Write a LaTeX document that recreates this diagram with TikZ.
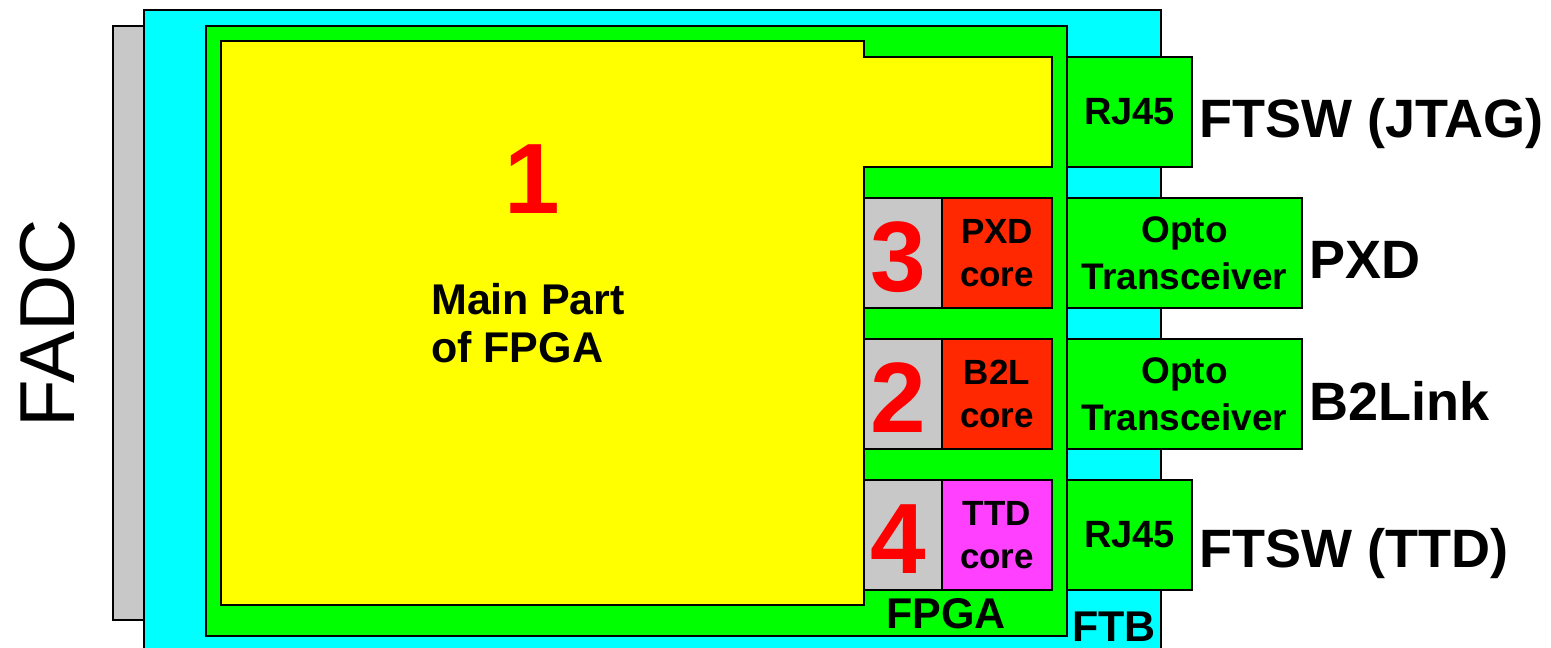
\documentclass[tikz,border=0pt]{standalone}
\usepackage{fontspec}
\setmainfont{Liberation Sans}
\usetikzlibrary{positioning}
\definecolor{adcgrey}{RGB}{200,200,200}
\definecolor{ftbcyan}{RGB}{0,255,255}
\definecolor{fpgagreen}{RGB}{0,255,0}
\definecolor{mainyellow}{RGB}{255,255,0}
\definecolor{corered}{RGB}{255,40,0}
\definecolor{coremagenta}{RGB}{255,64,255}
\definecolor{digitred}{RGB}{255,0,0}

\begin{document}
\begin{tikzpicture}[x=1pt, y=-1pt,
    box/.style={draw, line width=2.5pt, inner sep=0pt, outer sep=0pt, anchor=north west},
    cell/.style={box, line width=2pt, minimum height=110pt, align=center},
    digit/.style={font=\fontsize{100}{100}\selectfont\bfseries, text=digitred, inner sep=0pt},
    coretext/.style={font=\fontsize{35}{43}\selectfont\bfseries},
    optotext/.style={font=\fontsize{37}{47}\selectfont\bfseries},
    tag/.style={font=\fontsize{54}{54}\selectfont\bfseries, inner sep=0pt, anchor=base west},
    smalltag/.style={font=\fontsize{43}{48}\selectfont\bfseries, inner sep=0pt, anchor=base west}]
    \clip (0,0) rectangle (1551,648);

    % boards
    \node[box, fill=adcgrey, minimum width=31pt, minimum height=594pt] (adc) at (113,26) {};
    \node[box, fill=ftbcyan, line width=2pt, minimum width=1017pt, minimum height=680pt] (ftb) at (144,10) {};
    \node[box, fill=fpgagreen, minimum width=861pt, minimum height=610pt] (fpga) at (206,26) {};
    \node[box, fill=mainyellow, line width=2pt, minimum width=643pt, minimum height=564pt] (main) at (221,41) {};
    \node[box, fill=mainyellow, line width=2pt, minimum width=188pt, minimum height=110pt] (strip) at (864,57) {};
    \fill[mainyellow] ([xshift=-3pt, yshift=-1pt]strip.north west) rectangle ([xshift=3pt, yshift=1pt]strip.south west);

    % cores
    \node[cell, fill=adcgrey, minimum width=78pt] (pxdnum) at (864,198) {};
    \node[cell, fill=corered, minimum width=110pt, coretext, right=0pt of pxdnum] (pxdcore) {PXD\\core};
    \node[cell, fill=adcgrey, minimum width=78pt, below=31pt of pxdnum] (b2lnum) {};
    \node[cell, fill=corered, minimum width=110pt, coretext, right=0pt of b2lnum] (b2lcore) {B2L\\core};
    \node[cell, fill=adcgrey, minimum width=78pt, below=31pt of b2lnum] (ttdnum) {};
    \node[cell, fill=coremagenta, minimum width=110pt, coretext, right=0pt of ttdnum] (ttdcore) {TTD\\core};
    \node[digit, xshift=-5pt, yshift=-4pt] (three) at (pxdnum) {3};
    \node[digit, xshift=-5pt, yshift=-4pt] (two) at (b2lnum) {2};
    \node[digit, xshift=-5pt, yshift=-4pt] (four) at (ttdnum) {4};

    % connectors
    \node[cell, fill=fpgagreen, minimum width=125pt, font=\fontsize{38}{38}\selectfont\bfseries] (jtagrj) at (1067,57) {RJ45};
    \node[cell, fill=fpgagreen, minimum width=235pt, optotext] (pxdopto) at (1067,198) {Opto\\Transceiver};
    \node[cell, fill=fpgagreen, minimum width=235pt, optotext, below=31pt of pxdopto] (b2lopto) {Opto\\Transceiver};
    \node[cell, fill=fpgagreen, minimum width=125pt, font=\fontsize{38}{38}\selectfont\bfseries] (ttdrj) at (1067,480) {RJ45};

    % labels
    \node[digit] (one) at (532,179) {1};
    \node[font=\fontsize{43}{48}\selectfont\bfseries, align=left, inner sep=0pt, anchor=west] (maintext) at (431,323) {Main Part\\of FPGA};
    \node[smalltag] (fpgalbl) at (886,628) {FPGA};
    \node[smalltag] (ftblbl) at (1072,641) {FTB};
    \node[tag] (jtaglbl) at (1199,137) {FTSW (JTAG)};
    \node[tag] (pxdlbl) at (1309,278) {PXD};
    \node[tag] (b2llbl) at (1309,420) {B2Link};
    \node[tag] (ttdlbl) at (1199,567) {FTSW (TTD)};
    \node[rotate=90, font=\fontsize{78}{78}\selectfont] (adclbl) at (48,323) {FADC};
\end{tikzpicture}
\end{document}
